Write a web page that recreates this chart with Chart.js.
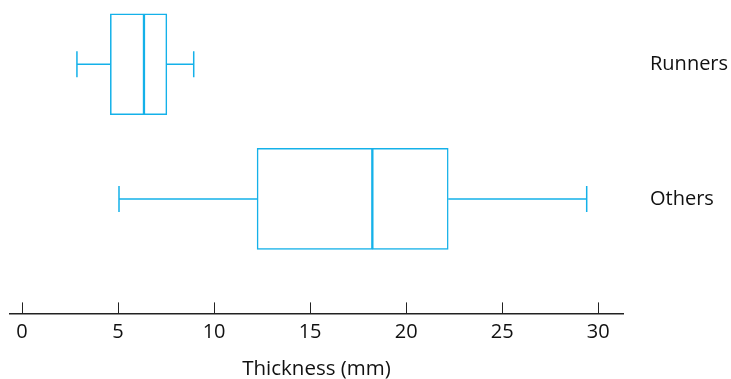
<!DOCTYPE html>
<html>
<head>
<meta charset="utf-8">
<script src="https://cdn.jsdelivr.net/npm/chart.js@4.4.0/dist/chart.umd.min.js"></script>
<style>
  html, body { margin: 0; padding: 0; background: #fff; }
  #wrap { width: 731px; height: 379px; }
</style>
</head>
<body>
<div id="wrap"><canvas id="myChart"></canvas></div>
<script>
// groups, top to bottom
const groups = ['Runners', 'Others'];
// five-number summaries (mm)
const mins    = [2.86, 5.05];
const q1s     = [4.6, 12.24];
const medians = [6.35, 18.24];
const q3s     = [7.54, 22.19];
const maxs    = [8.94, 29.4];
const xTicks  = [0, 5, 10, 15, 20, 25, 30];

const blue = '#14b1e9';
const FONT = 'Open Sans';

// y positions for each group (1 = top row)
const rowPos = groups.map((g, i) => i + 1);

// whiskers + upward tick marks drawn through the scales
const boxExtras = {
  id: 'boxExtras',
  afterDatasetsDraw(chart) {
    const ctx = chart.ctx;
    const xs = chart.scales.x, ys = chart.scales.y;
    ctx.save();
    ctx.strokeStyle = blue;
    ctx.lineWidth = 1.5;
    rowPos.forEach((p, i) => {
      const y = ys.getPixelForValue(p);
      const xMin = xs.getPixelForValue(mins[i]);
      const xQ1 = xs.getPixelForValue(q1s[i]);
      const xQ3 = xs.getPixelForValue(q3s[i]);
      const xMax = xs.getPixelForValue(maxs[i]);
      ctx.beginPath();
      ctx.moveTo(xMin, y); ctx.lineTo(xQ1, y);
      ctx.moveTo(xQ3, y); ctx.lineTo(xMax, y);
      ctx.moveTo(xMin, y - 13); ctx.lineTo(xMin, y + 13);
      ctx.moveTo(xMax, y - 13); ctx.lineTo(xMax, y + 13);
      ctx.stroke();
    });
    // tick marks pointing up from the axis
    ctx.strokeStyle = '#222';
    ctx.lineWidth = 1;
    const yb = chart.chartArea.bottom;
    xTicks.forEach(v => {
      const x = Math.round(xs.getPixelForValue(v)) + 0.5;
      ctx.beginPath();
      ctx.moveTo(x, yb);
      ctx.lineTo(x, yb - 11);
      ctx.stroke();
    });
    ctx.restore();
  }
};

const ctx = document.getElementById('myChart').getContext('2d');
new Chart(ctx, {
  type: 'bar',
  data: {
    datasets: [
      {
        label: 'lower box',
        data: rowPos.map((p, i) => ({ y: p, x: [q1s[i], medians[i]] })),
        backgroundColor: '#fff',
        borderColor: blue,
        borderWidth: 1.5,
        borderSkipped: false,
        barThickness: 101,
        grouped: false
      },
      {
        label: 'upper box',
        data: rowPos.map((p, i) => ({ y: p, x: [medians[i], q3s[i]] })),
        backgroundColor: '#fff',
        borderColor: blue,
        borderWidth: 1.5,
        borderSkipped: false,
        barThickness: 101,
        grouped: false
      }
    ]
  },
  options: {
    indexAxis: 'y',
    responsive: true,
    maintainAspectRatio: false,
    animation: false,
    layout: { padding: { left: 10, top: 0, right: 0, bottom: 0 } },
    plugins: { legend: { display: false }, tooltip: { enabled: false } },
    scales: {
      x: {
        type: 'linear',
        min: -0.625,
        max: 31.29,
        bounds: 'data',
        afterBuildTicks: s => { s.ticks = xTicks.map(v => ({ value: v })); },
        grid: { display: false, drawTicks: false },
        border: { display: true, color: '#222', width: 1.5 },
        ticks: { padding: 7, color: '#111', font: { family: FONT, size: 20 } },
        title: {
          display: true,
          text: 'Thickness (mm)',
          color: '#111',
          font: { family: FONT, size: 20.5 },
          padding: { top: 5, bottom: -2 }
        }
      },
      y: {
        type: 'linear',
        position: 'right',
        reverse: true,
        offset: false,
        bounds: 'data',
        min: 0.5227,
        max: 2.85,
        afterBuildTicks: s => { s.ticks = rowPos.map(v => ({ value: v })); },
        afterFit: s => { s.width = 108; s.paddingTop = 0; s.paddingBottom = 0; },
        grid: { display: false, drawTicks: false },
        border: { display: false },
        ticks: {
          padding: 27,
          color: '#111',
          font: { family: FONT, size: 20 },
          callback: v => groups[v - 1]
        }
      }
    }
  },
  plugins: [boxExtras]
});
</script>
</body>
</html>
